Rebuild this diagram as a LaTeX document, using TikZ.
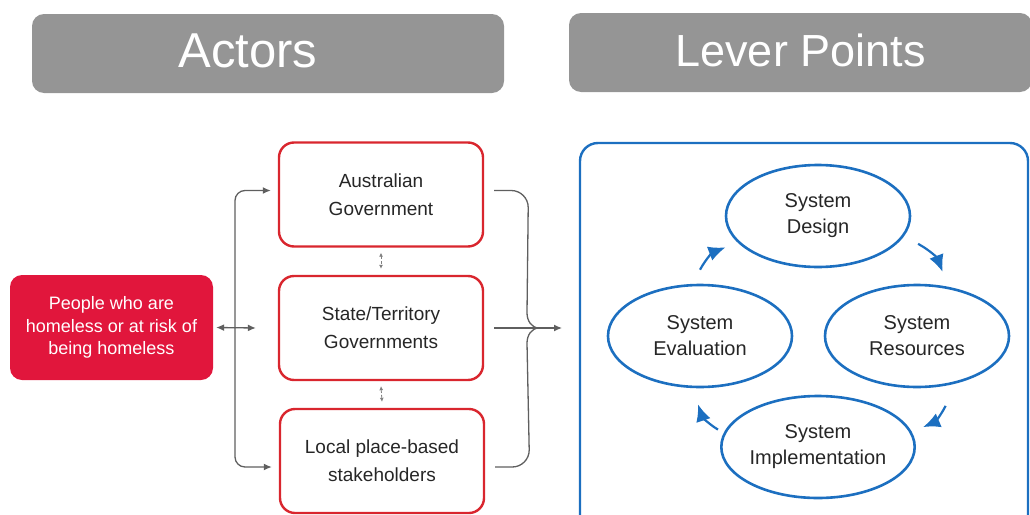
\documentclass[tikz,border=0pt]{standalone}
\usepackage{fontspec}
\setmainfont{Liberation Sans}
\usetikzlibrary{arrows.meta,shapes.geometric}

\definecolor{headgray}{HTML}{959595}
\definecolor{actred}{HTML}{E1163C}
\definecolor{boxred}{HTML}{D9262E}
\definecolor{levblue}{HTML}{1C6FC0}
\definecolor{linkgray}{HTML}{5F5F5F}
\definecolor{txt}{HTML}{262626}

\tikzset{
  header/.style={fill=headgray, rounded corners=12pt, inner sep=0pt},
  title/.style={text=white, inner sep=0pt},
  people/.style={fill=actred, rounded corners=12pt, minimum width=203pt, minimum height=105pt,
    text=white, align=center, font=\fontsize{18}{22.5}\selectfont, inner sep=0pt},
  actor/.style={draw=boxred, line width=2.4pt, rounded corners=15pt, minimum width=204pt,
    minimum height=104pt, text=txt, align=center, font=\fontsize{19}{28}\selectfont, inner sep=0pt},
  leverell/.style={ellipse, draw=levblue, line width=2.6pt, minimum width=184pt, minimum height=102pt,
    text=txt, align=center, font=\fontsize{20}{26}\selectfont, inner sep=0pt},
  link/.style={draw=linkgray, line width=1.3pt},
  linktip/.style={-{Latex[length=8pt,width=7pt]}},
  bothtips/.style={{Latex[length=8pt,width=7pt]}-{Latex[length=8pt,width=7pt]}},
  mutual/.style={draw=gray, line width=0.8pt, densely dashed, {Latex[length=4pt,width=4pt]}-{Latex[length=4pt,width=4pt]}},
  turn/.style={draw=levblue, line width=2.2pt, -{Latex[length=17pt,width=15pt]}, bend left=20},
}

\begin{document}
\begin{tikzpicture}[x=1pt, y=-1pt]
      \clip (0,0) rectangle (1030,514);
      
      % headers
      \node[header, minimum width=472pt, minimum height=79pt] (actors) at (268,53.5) {};
      \node[title, font=\fontsize{49}{49}\selectfont] at ([xshift=-20pt,yshift=3pt]actors.center) {Actors};
      \node[header, minimum width=463pt, minimum height=79pt] (levers) at (800.5,52.5) {};
      \node[title, font=\fontsize{45}{45}\selectfont] at ([yshift=2pt]levers.center) {Lever Points};
      
      % actors
      \node[people] (people) at (111.5,327.5) {People who are\\homeless or at risk of\\being homeless};
      \node[actor] (aus) at (381,194.5) {Australian\\Government};
      \node[actor] (state) at (381,328) {State/Territory\\Governments};
      \node[actor] (local) at (382,461) {Local place-based\\stakeholders};
      
      \coordinate (split) at (235,328);
      \coordinate (tip) at (539,328);
      \coordinate (into) at (562,328);
      
      \draw[link, linktip, rounded corners=10pt] (split) |- ([xshift=-7pt,yshift=4pt]aus.west);
      \draw[link, linktip, rounded corners=10pt] (split) |- ([xshift=-7pt,yshift=-6pt]local.west);
      \draw[link, bothtips] ([xshift=3pt]people.east) -- ([xshift=-22pt]state.west);
      
      \draw[mutual] ([yshift=-5pt]aus.south) -- ([yshift=6pt]state.north);
      \draw[mutual] ([yshift=-5pt]state.south) -- ([yshift=6pt]local.north);
      
      % brace into the lever points
      \draw[link] ([xshift=10pt,yshift=4pt]aus.east) -- ++(17,0) to[out=0,in=90] ++(17,17)
        -- (527,313) to[out=-90,in=180] (tip);
      \draw[link] ([xshift=10pt,yshift=-6pt]local.east) -- ++(17,0) to[out=0,in=-90] ++(17,-17)
        -- (527,343) to[out=90,in=180] (tip);
      \draw[link, linktip] ([xshift=10pt]state.east) -- (into);
      
      % lever points
      \draw[levblue, line width=2.4pt, rounded corners=18pt] (580,143) rectangle (1028,580);
      
      \node[leverell] (design) at (818,216) {System\\Design};
      \node[leverell] (resources) at (917,336) {System\\Resources};
      \node[leverell] (implementation) at (818,447) {System\\Implementation};
      \node[leverell] (evaluation) at (700,336) {System\\Evaluation};
      
      \draw[turn] ([shift={(17,4)}]design.-16) to ([shift={(6,-13)}]resources.69);
      \draw[turn] ([shift={(7,19)}]resources.-67) to ([shift={(13,-2)}]implementation.11);
      \draw[turn] ([shift={(-7,-1)}]implementation.170) to ([shift={(-2,16)}]evaluation.-90);
      \draw[turn] ([shift={(0,-14)}]evaluation.90) to ([shift={(-13,4)}]design.199);
      
      \end{tikzpicture}
\end{document}
